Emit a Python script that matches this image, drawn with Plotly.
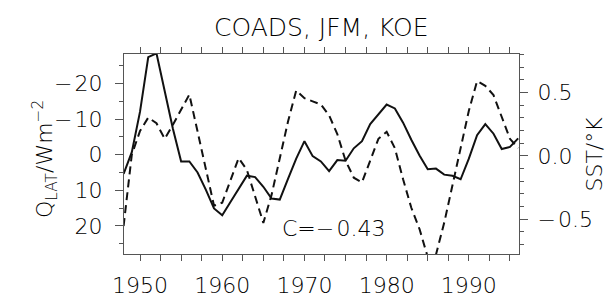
import plotly.graph_objects as go

years = [1948, 1949, 1950, 1951, 1952, 1953, 1954, 1955, 1956, 1957,
         1958, 1959, 1960, 1961, 1962, 1963, 1964, 1965, 1966, 1967,
         1968, 1969, 1970, 1971, 1972, 1973, 1974, 1975, 1976, 1977,
         1978, 1979, 1980, 1981, 1982, 1983, 1984, 1985, 1986, 1987,
         1988, 1989, 1990, 1991, 1992, 1993, 1994, 1995, 1996]

qlat = [5.4, -0.7, -12.1, -27.4, -28.5, -17.8, -7.3, 1.9, 1.9, 5.0,
        9.8, 15.1, 17.0, 13.3, 9.6, 5.9, 6.3, 9.0, 12.3, 12.6,
        6.8, 1.1, -3.8, 0.4, 1.9, 4.6, 1.5, 1.7, -1.8, -3.8,
        -8.6, -11.2, -14.1, -13.0, -9.0, -4.2, 0.2, 4.1, 3.9, 5.6,
        5.9, 6.9, 1.1, -5.5, -8.6, -5.9, -1.6, -2.2, -4.6]

sst = [-0.554, 0.01, 0.197, 0.303, 0.258, 0.135, 0.246, 0.369, 0.485, 0.192,
       -0.103, -0.394, -0.369, -0.197, -0.017, -0.111, -0.320, -0.529, -0.308, -0.012,
       0.271, 0.517, 0.456, 0.431, 0.406, 0.32, 0.172, -0.037, -0.172, -0.209,
       -0.037, 0.135, 0.19, 0.061, -0.185, -0.41, -0.578, -0.80, -0.78, -0.529,
       -0.234, 0.061, 0.357, 0.591, 0.554, 0.48, 0.308, 0.135, 0.061]

x_ticks = [1950, 1960, 1970, 1980, 1990]
q_ticks = [-20, -10, 0, 10, 20]
q_tick_labels = ["\u2212\u200a20", "\u2212\u200a10", "0", "10", "20"]
s_ticks = [-0.5, 0.0, 0.5]
s_tick_labels = ["\u2212\u200a0.5", "0.0", "0.5"]

FONT = "DejaVu Sans"
W = 300
INK = "#000000"
AX = "#555555"

fig = go.Figure()
fig.add_trace(go.Scatter(x=years, y=qlat, mode="lines",
                         line=dict(color="#111111", width=2), yaxis="y",
                         showlegend=False))
fig.add_trace(go.Scatter(x=years, y=sst, mode="lines",
                         line=dict(color="#111111", width=2, dash="8px,5px"),
                         yaxis="y2", showlegend=False))

axis_common = dict(showgrid=False, zeroline=False, showline=True,
                   linecolor=AX, linewidth=1, ticks="outside",
                   tickcolor=AX, tickwidth=1,
                   tickfont=dict(family=FONT, size=22, color=INK, weight=W))

fig.update_layout(
    width=613, height=302,
    margin=dict(l=116, r=102, t=46, b=42),
    paper_bgcolor="white", plot_bgcolor="white",
    font=dict(family=FONT, color=INK, weight=W),
    xaxis=dict(range=[1948.05, 1996.1], tickvals=x_ticks, ticklen=6,
               mirror="allticks", ticklabelstandoff=6,
               minor=dict(dtick=2.5, tick0=1950, ticklen=4, tickcolor=AX,
                          ticks="outside"),
               **axis_common),
    yaxis=dict(range=[27.9, -28.3], tickvals=q_ticks, ticktext=q_tick_labels,
               ticklen=8, ticklabelstandoff=8,
               minor=dict(dtick=5, tick0=0, ticklen=4, tickcolor=AX,
                          ticks="outside"),
               **axis_common),
    yaxis2=dict(range=[-0.775, 0.805], tickvals=s_ticks, ticktext=s_tick_labels,
                overlaying="y", side="right", ticklen=8, ticklabelstandoff=5,
                minor=dict(dtick=0.1, tick0=0, ticklen=4, tickcolor=AX,
                           ticks="outside"),
                **axis_common),
    annotations=[
        dict(text="COADS, JFM, KOE", x=0.5, xref="paper", y=1, yref="paper",
             yshift=27, yanchor="middle",
             showarrow=False, font=dict(family=FONT, size=25, color=INK, weight=W)),
        dict(text="C=\u2212\u200a0.43", x=1973.5, xref="x", y=-0.57, yref="y2",
             showarrow=False, font=dict(family=FONT, size=22, color=INK, weight=W)),
        dict(text="Q<sub>LAT</sub>/Wm<sup>\u22122</sup>", textangle=-90,
             x=0, xref="paper", xshift=-97, y=0.5, yref="paper", yshift=-5,
             showarrow=False, font=dict(family=FONT, size=22, color=INK, weight=W)),
        dict(text="SST/\u00b0K", textangle=-90,
             x=1, xref="paper", xshift=89, y=0.5, yref="paper",
             showarrow=False, font=dict(family=FONT, size=22, color=INK, weight=W)),
    ],
)

fig.write_html("out.html")
